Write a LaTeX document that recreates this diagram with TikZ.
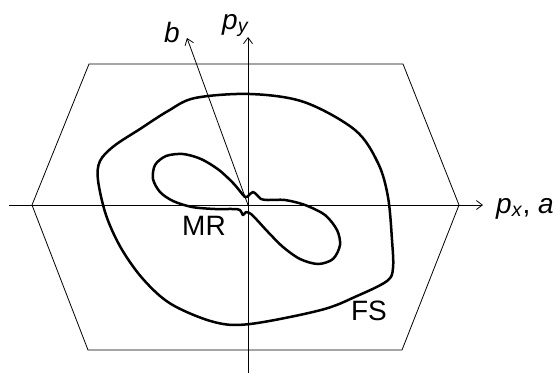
\documentclass[tikz,border=0pt]{standalone}
\usepackage{fontspec}
\setmainfont{Liberation Sans}
\usetikzlibrary{arrows.meta}

\begin{document}
\begin{tikzpicture}[
  x=1pt, y=-1pt,
  edge/.style={line width=0.8pt, line join=miter},
  arr/.style={-{Straight Barb[length=6pt, width=9pt]}, line width=0.8pt},
  band/.style={line width=2.5pt, line join=round},
  lbl/.style={font=\fontsize{28}{32}\selectfont, inner sep=0pt}
]
\useasboundingbox (0,0) rectangle (559,373);
% Brillouin zone
\coordinate (h1) at (32,205);
\coordinate (h2) at (89,64);
\coordinate (h3) at (403,64);
\coordinate (h4) at (459,205);
\coordinate (h5) at (402,350);
\coordinate (h6) at (88,350);
\draw[edge] (h1)--(h2)--(h3)--(h4)--(h5)--(h6)--cycle;
% axes
\coordinate (O) at (248,205);
\coordinate (xl) at (9,205);
\coordinate (xr) at (483,205);
\coordinate (yb) at (248,373);
\coordinate (yt) at (248,37);
\coordinate (bt) at (187,38);
\draw[arr] (xl)--(xr);
\draw[arr] (yb)--(yt);
\draw[arr] (O)--(bt);
% Fermi surface
\draw[band] plot[smooth cycle, tension=0.55] coordinates {
  (195,98) (250,94) (304,102) (355,130) (378,163) (388,197) (392,240)
  (393,268) (387,281) (357,296) (321,310) (250,324) (214,322) (171,304)
  (143,279) (121,248) (106,215) (98,180) (100,161) (114,146) (140,129) (168,111)};
% MR
\draw[band] plot[smooth cycle, tension=0.5] coordinates {
  (245,197) (249,195) (253,192) (257,195) (261,199) (268,200) (285,200)
  (305,205) (325,215) (337,230) (340,245) (333,259) (318,264) (300,259)
  (283,247) (268,232) (257,220) (251,214) (246,212) (243,215) (240,210)
  (233,209) (215,209) (192,207) (173,201) (160,192) (153,179) (155,165)
  (166,156) (183,154) (201,159) (219,170) (234,184)};
% labels
\node[lbl, anchor=base] (b) at (172,42) {\textit{b}};
\node[lbl, anchor=base west] (py) at (222,29) {\textit{p}\textsubscript{\textit{y}}};
\node[lbl, anchor=base west] (px) at (496,213) {\textit{p}\textsubscript{\textit{x}}, \textit{a}};
\node[lbl, anchor=base] (mr) at (204,235) {MR};
\node[lbl, anchor=base] (fs) at (369,320) {FS};
\end{tikzpicture}
\end{document}
